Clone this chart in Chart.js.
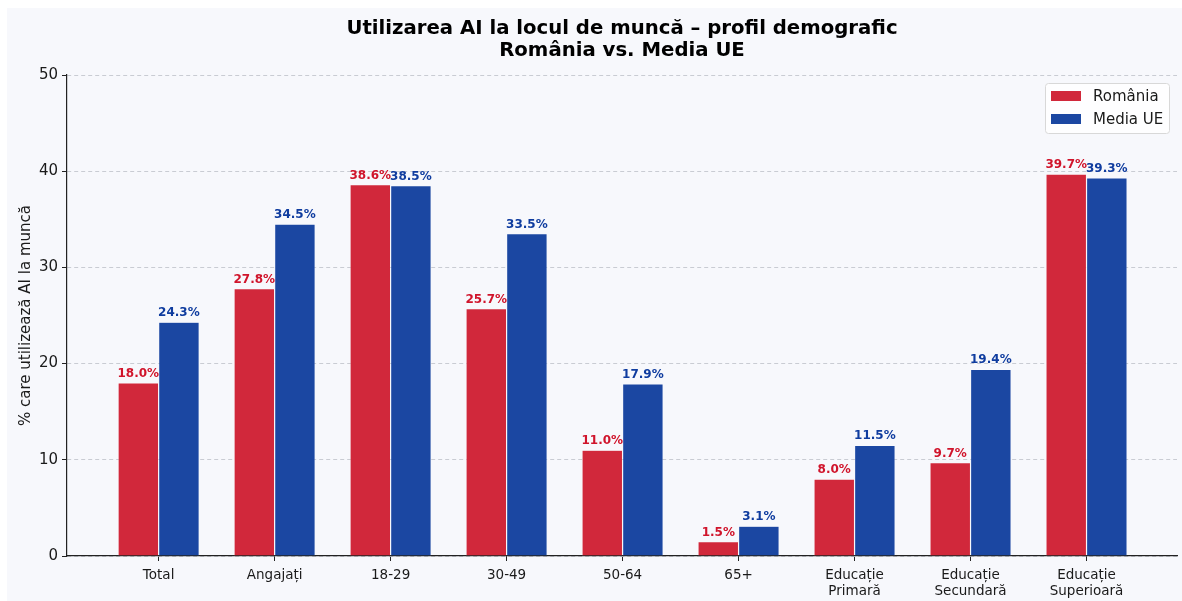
<!DOCTYPE html>
<html>
<head>
<meta charset="utf-8">
<script src="https://cdn.jsdelivr.net/npm/chart.js@4.4.1/dist/chart.umd.min.js"></script>
<style>
  html, body { margin: 0; padding: 0; background: #ffffff; }
  #wrap { position: absolute; left: 7px; top: 8px; width: 1175px; height: 593px; background: #f7f8fc; }
</style>
</head>
<body>
<div id="wrap"><canvas id="c"></canvas></div>
<script>
// Date
const categorii = [['Total'], ['Angajați'], ['18-29'], ['30-49'], ['50-64'], ['65+'],
  ['Educație', 'Primară'], ['Educație', 'Secundară'], ['Educație', 'Superioară']];
const romania = [18.0, 27.8, 38.6, 25.7, 11.0, 1.5, 8.0, 9.7, 39.7];
const mediaUE = [24.3, 34.5, 38.5, 33.5, 17.9, 3.1, 11.5, 19.4, 39.3];
const yTicks = [0, 10, 20, 30, 40, 50];
const titlu = ['Utilizarea AI la locul de muncă – profil demografic', 'România vs. Media UE'];

const COL = {
  red: '#d1283b', blue: '#1b47a2',
  redTxt: '#d0142b', blueTxt: '#0f3c9f',
  grid: '#c9ccd3', axis: '#222222', text: '#1a1a1a',
};
const FONT = "'DejaVu Sans', sans-serif";

function pts(arr) { return arr.map(function (v, i) { return { x: i, y: v }; }); }

// titlu centrat pe zona graficului
const titlePlugin = {
  id: 'titluCentrat',
  afterDraw: function (chart) {
    const ctx = chart.ctx, a = chart.chartArea;
    const cx = (a.left + a.right) / 2;
    ctx.save();
    ctx.fillStyle = '#000';
    ctx.font = 'bold 19.7px ' + FONT;
    ctx.textAlign = 'center';
    ctx.textBaseline = 'middle';
    ctx.fillText(titlu[0], cx, 21);
    ctx.fillText(titlu[1], cx, 43);
    ctx.restore();
  }
};

// etichete valori deasupra barelor
const labelPlugin = {
  id: 'eticheteBare',
  afterDatasetsDraw: function (chart) {
    const ctx = chart.ctx;
    ctx.save();
    ctx.font = 'bold 12px ' + FONT;
    ctx.textAlign = 'center';
    ctx.textBaseline = 'bottom';
    chart.data.datasets.forEach(function (ds, di) {
      ctx.fillStyle = di === 0 ? COL.redTxt : COL.blueTxt;
      chart.getDatasetMeta(di).data.forEach(function (bar, i) {
        ctx.fillText(ds.data[i].y.toFixed(1) + '%', bar.x, bar.y - 3);
      });
    });
    ctx.restore();
  }
};

// legenda in coltul dreapta-sus, cu chenar
const legendPlugin = {
  id: 'legendaBox',
  afterDraw: function (chart) {
    const ctx = chart.ctx, a = chart.chartArea;
    const w = 124, h = 50;
    const x = a.right - 8 - w, y = a.top + 8;
    ctx.save();
    ctx.fillStyle = 'rgba(255,255,255,0.85)';
    ctx.strokeStyle = '#d8d8d8';
    ctx.lineWidth = 1;
    ctx.beginPath();
    ctx.roundRect(x + 0.5, y + 0.5, w, h, 3);
    ctx.fill();
    ctx.stroke();
    ctx.font = '15px ' + FONT;
    ctx.textBaseline = 'middle';
    chart.data.datasets.forEach(function (ds, i) {
      const ry = y + 13 + i * 23;
      ctx.fillStyle = ds.backgroundColor;
      ctx.fillRect(x + 6, ry - 5, 30, 10);
      ctx.fillStyle = COL.text;
      ctx.fillText(ds.label, x + 48, ry + 1);
    });
    ctx.restore();
  }
};

new Chart(document.getElementById('c'), {
  type: 'bar',
  data: {
    datasets: [
      { label: 'România', data: pts(romania), backgroundColor: COL.red, borderColor: 'rgba(255,255,255,0.35)', borderWidth: 0.6 },
      { label: 'Media UE', data: pts(mediaUE), backgroundColor: COL.blue, borderColor: 'rgba(255,255,255,0.35)', borderWidth: 0.6 },
    ],
  },
  options: {
    responsive: true, maintainAspectRatio: false, animation: false,
    categoryPercentage: 0.7, barPercentage: 1.0,
    layout: { padding: { top: 67, right: 5, left: 0, bottom: 0 } },
    plugins: { legend: { display: false }, tooltip: { enabled: false }, title: { display: false } },
    scales: {
      x: {
        type: 'linear', min: -0.79, max: 8.78, offset: false,
        afterFit: function (s) { s.height = 45; },
        afterBuildTicks: function (s) {
          s.ticks = categorii.map(function (_, i) { return { value: i }; });
        },
        ticks: {
          includeBounds: false, autoSkip: false, maxRotation: 0, padding: 6,
          color: COL.text, font: { family: FONT, size: 13.5 }, lineHeight: 1.15,
          callback: function (v) { return categorii[v] || ''; },
        },
        grid: { offset: false, drawOnChartArea: false, drawTicks: true, tickLength: 5, tickColor: COL.axis },
        border: { display: true, color: COL.axis, width: 1.2 },
      },
      y: {
        min: 0, max: 50,
        afterFit: function (s) { s.width = 60; },
        afterBuildTicks: function (s) {
          s.ticks = yTicks.map(function (v) { return { value: v }; });
        },
        ticks: { color: COL.text, font: { family: FONT, size: 15 }, padding: 4 },
        grid: { color: COL.grid, lineWidth: 1, tickLength: 5, tickColor: COL.axis, tickBorderDash: [] },
        border: { display: true, color: COL.axis, width: 1.2, dash: [4, 3] },
        title: { display: true, text: '% care utilizează AI la muncă', color: COL.text,
          font: { family: FONT, size: 15 }, padding: { top: 10, bottom: 0 } },
      },
    },
  },
  plugins: [titlePlugin, labelPlugin, legendPlugin],
});
</script>
</body>
</html>
